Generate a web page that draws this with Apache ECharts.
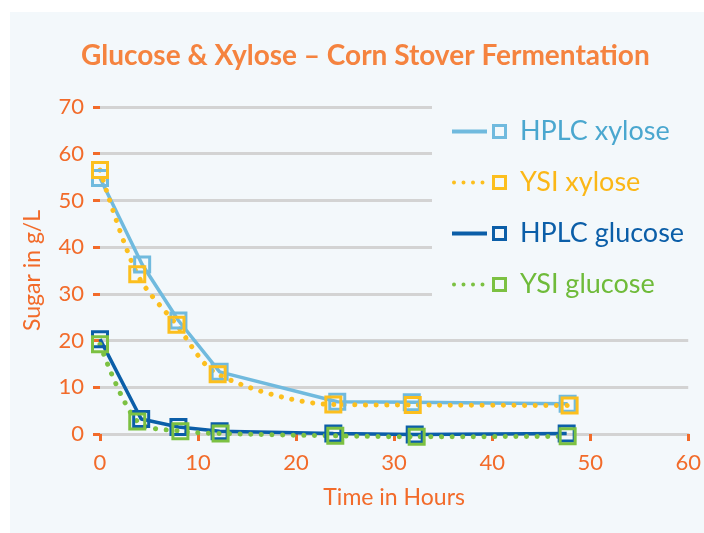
<!DOCTYPE html>
<html>
<head>
<meta charset="utf-8">
<script src="https://cdn.jsdelivr.net/npm/echarts@6/dist/echarts.min.js"></script>
<style>
  html, body { margin: 0; padding: 0; background: #ffffff; }
  #chart { width: 704px; height: 533px; }
</style>
</head>
<body>
<div id="chart"></div>
<script>
// x = hours, y = g/L
const hplcXyloseT = [0, 4.3, 8, 12.2, 24.2, 31.8, 47.7]
const hplcXylose = [54.8, 36.3, 24.3, 13.3, 6.9, 6.8, 6.5]
const ysiXyloseT = [0, 3.8, 7.8, 12, 23.8, 31.9, 47.9]
const ysiXylose = [56.5, 34.2, 23.4, 12.8, 6.3, 6.2, 6.1]
const hplcGlucoseT = [0, 4.2, 8, 12.2, 23.8, 32.1, 47.6]
const hplcGlucose = [20.3, 3.2, 1.5, 0.6, 0.1, -0.1, 0.1]
const ysiGlucoseT = [0, 3.8, 8.2, 12.3, 24, 32.3, 47.7]
const ysiGlucose = [19.2, 2.7, 0.6, 0.1, -0.4, -0.6, -0.5]

const names = ['HPLC xylose', 'YSI xylose', 'HPLC glucose', 'YSI glucose']
const colors = ['#70bade', '#fcbf1e', '#0b5ea8', '#7cc142']
const textColors = ['#4aa7cf', '#fbb717', '#0b5ea8', '#6fbb3a']

const orange = '#f26b2a'
const pair = (t, v) => t.map((x, i) => [x, v[i]])

// legend icons: line (solid or dotted) followed by a hollow square, 55 x 15
const squareRing = 'M40 0 L55 0 L55 15 L40 15 Z M43 3 L43 12 L52 12 L52 3 Z'
const solidIcon = 'path://M0 5.5 L35 5.5 L35 9.5 L0 9.5 Z ' + squareRing
const dot = x => `M${x} 7.5 a2 2 0 1 0 4 0 a2 2 0 1 0 -4 0 Z `
const dottedIcon = 'path://' + dot(0) + dot(9.5) + dot(19) + dot(28.5) + squareRing

const chart = echarts.init(document.getElementById('chart'))

function lineSeries(i, data, dotted) {
  return {
    name: names[i],
    type: 'line',
    data: data,
    clip: false,
    symbol: 'rect',
    symbolSize: 15,
    color: colors[i],
    itemStyle: { color: 'rgba(0,0,0,0)', borderColor: colors[i], borderWidth: 3 },
    lineStyle: dotted
      ? { color: colors[i], width: 5, type: [0.1, 10.5], cap: 'round' }
      : { color: colors[i], width: 3.5 },
    smooth: dotted ? 0.3 : false,
    z: 3
  }
}

chart.setOption({
  backgroundColor: '#ffffff',
  animation: false,
  textStyle: { fontFamily: 'Lato' },
  graphic: [
    {
      type: 'rect',
      z: -10,
      shape: { x: 10, y: 12, width: 694, height: 521 },
      style: { fill: '#f3f8fb' }
    }
  ],
  title: {
    text: 'Glucose & Xylose \u2013 Corn Stover Fermentation',
    left: 76,
    top: 37,
    textStyle: { color: '#f5833f', fontSize: 28, fontWeight: 'bold', fontFamily: 'Lato' }
  },
  legend: {
    orient: 'vertical',
    left: 432,
    top: 104,
    padding: [14, 20, 16, 20],
    backgroundColor: '#f3f8fb',
    itemWidth: 55,
    itemHeight: 15,
    itemGap: 24,
    z: 10,
    itemStyle: { borderWidth: 0 },
    textStyle: { fontSize: 27, fontFamily: 'Lato', padding: [0, 0, 0, 8] },
    data: names.map((n, i) => ({
      name: n,
      icon: i % 2 ? dottedIcon : solidIcon,
      itemStyle: { color: colors[i], borderWidth: 0 },
      textStyle: { color: textColors[i] }
    }))
  },
  grid: { left: 100, right: 14, top: 107, bottom: 99 },
  xAxis: {
    type: 'value',
    min: 0,
    max: 60,
    interval: 10,
    name: 'Time in Hours',
    nameLocation: 'middle',
    nameGap: 52,
    nameTextStyle: { color: orange, fontSize: 23 },
    axisLine: { show: true, lineStyle: { color: '#d3d3d3', width: 3 } },
    axisTick: { show: true, length: 7, lineStyle: { color: orange, width: 3 } },
    axisLabel: { color: orange, fontSize: 22, margin: 18 },
    splitLine: { show: false }
  },
  yAxis: {
    type: 'value',
    min: 0,
    max: 70,
    interval: 10,
    name: 'Sugar in g/L',
    nameLocation: 'middle',
    nameGap: 56,
    nameTextStyle: { color: orange, fontSize: 23 },
    axisLine: { show: false },
    axisTick: { show: true, length: 7, lineStyle: { color: orange, width: 3 } },
    axisLabel: { color: orange, fontSize: 22, margin: 16 },
    splitLine: { show: true, lineStyle: { color: '#d3d3d3', width: 3 } }
  },
  series: [
    lineSeries(0, pair(hplcXyloseT, hplcXylose), false),
    lineSeries(1, pair(ysiXyloseT, ysiXylose), true),
    lineSeries(2, pair(hplcGlucoseT, hplcGlucose), false),
    lineSeries(3, pair(ysiGlucoseT, ysiGlucose), true)
  ]
})
</script>
</body>
</html>
